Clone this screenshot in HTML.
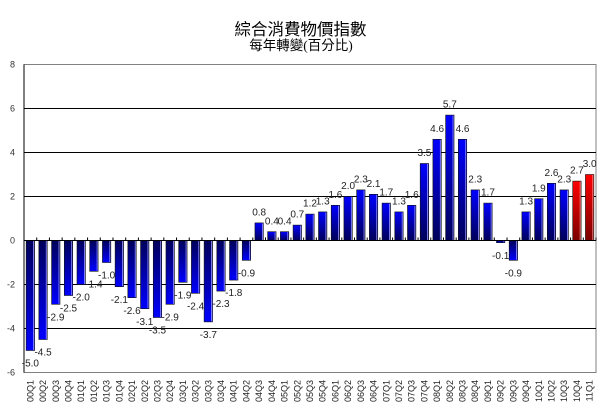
<!DOCTYPE html>
<html>
<head>
<meta charset="utf-8">
<style>
html,body{margin:0;padding:0;background:#fff;}
body{width:604px;height:410px;overflow:hidden;}
svg{display:block;}
</style>
</head>
<body>
<svg id="c" width="604" height="410" viewBox="0 0 604 410" xmlns="http://www.w3.org/2000/svg">
<defs>
<linearGradient id="bp" x1="0" y1="0" x2="0" y2="1">
<stop offset="0" stop-color="#0000ff"/><stop offset="1" stop-color="#00005a"/>
</linearGradient>
<linearGradient id="bn" x1="0" y1="0" x2="0" y2="1">
<stop offset="0" stop-color="#00005a"/><stop offset="1" stop-color="#0000ff"/>
</linearGradient>
<linearGradient id="rp" x1="0" y1="0" x2="0" y2="1">
<stop offset="0" stop-color="#ff0000"/><stop offset="1" stop-color="#7a0000"/>
</linearGradient>
</defs>
<text x="300.5" y="35" text-anchor="middle" font-family="'Liberation Sans','Noto Sans CJK TC',sans-serif" font-size="16.5" fill="#000">綜合消費物價指數</text>
<text x="301" y="50" text-anchor="middle" font-family="'Liberation Serif','Noto Sans CJK TC',sans-serif" font-size="13.5" fill="#000">每年轉變(百分比)</text>
<g id="grid"></g>
<g id="bars"></g>
<g id="lbls"></g>
</svg>
<script>
(function(){
var NS="http://www.w3.org/2000/svg";
var svg=document.getElementById('c');
function el(t,a,txt,p){var e=document.createElementNS(NS,t);for(var k in a)e.setAttribute(k,a[k]);if(txt!=null)e.textContent=txt;(p||svg).appendChild(e);return e;}
var L=24,R=596,Z=240.5,S=22;
function Y(v){return Z-v*S;}
var grid=document.getElementById('grid');
// plot border
el('rect',{x:L,y:Y(8),width:R-L,height:Y(-6)-Y(8),fill:'none',stroke:'#808080','stroke-width':1},null,grid);
[6,4,2,-2,-4].forEach(function(v){el('line',{x1:L,x2:R,y1:Y(v),y2:Y(v),stroke:'#000','stroke-width':1},null,grid);});
// y labels
[8,6,4,2,0,-2,-4,-6].forEach(function(v){el('text',{x:15,y:Y(v)+3,'text-anchor':'end','font-family':'Liberation Sans,sans-serif','font-size':9,fill:'#333'},String(v),grid);});
var cats=[],vals=[-5.0,-4.5,-2.9,-2.5,-2.0,-1.4,-1.0,-2.1,-2.6,-3.1,-3.5,-2.9,-1.9,-2.4,-3.7,-2.3,-1.8,-0.9,0.8,0.4,0.4,0.7,1.2,1.3,1.6,2.0,2.3,2.1,1.7,1.3,1.6,3.5,4.6,5.7,4.6,2.3,1.7,-0.1,-0.9,1.3,1.9,2.6,2.3,2.7,3.0];
for(var y=0;y<=11;y++){for(var q=1;q<=4;q++){if(cats.length<45)cats.push((y<10?'0':'')+y+'Q'+q);}}
var n=45,w=(R-L)/n,bw=8.4;
var bars=document.getElementById('bars'),lb=document.getElementById('lbls');
for(var i=0;i<n;i++){
 var v=vals[i],cx=L+(i+0.5)*w,x=cx-bw/2;
 var red=i>=43;
 var y0=v>=0?Y(v):Z, h=Math.abs(v)*S;
 if(h<1)h=1;
 el('rect',{x:x,y:y0,width:bw,height:h,fill:red?'url(#rp)':(v>=0?'url(#bp)':'url(#bn)'),stroke:'#111','stroke-width':0.6},null,bars);
 el('line',{x1:x+bw-1,x2:x+bw-1,y1:y0+0.5,y2:y0+h-0.5,stroke:red?'#ff9a9a':'#9a9aff','stroke-width':0.8},null,bars);
 var ly=v>=0?Y(v)-11:Y(v)+12.5;
 el('text',{x:cx,y:ly+3.6,'text-anchor':'middle','font-family':'Liberation Sans,sans-serif','font-size':10,fill:'#222'},v.toFixed(1),lb);
 // x labels rotated
 el('text',{x:0,y:0,transform:'translate('+(cx+3)+',380) rotate(-90)','text-anchor':'end','font-family':'Liberation Sans,sans-serif','font-size':9,fill:'#222'},cats[i],lb);
}
// ticks on zero axis
for(var i=0;i<=n;i++){var tx=L+i*w;el('line',{x1:tx,x2:tx,y1:Z-3,y2:Z,stroke:'#000','stroke-width':1},null,bars);}
// zero axis and left axis
el('line',{x1:L,x2:R,y1:Z,y2:Z,stroke:'#000','stroke-width':1},null,bars);
el('line',{x1:L,x2:L,y1:Y(8),y2:Y(-6),stroke:'#000','stroke-width':1},null,bars);
})();
</script>
</body>
</html>
